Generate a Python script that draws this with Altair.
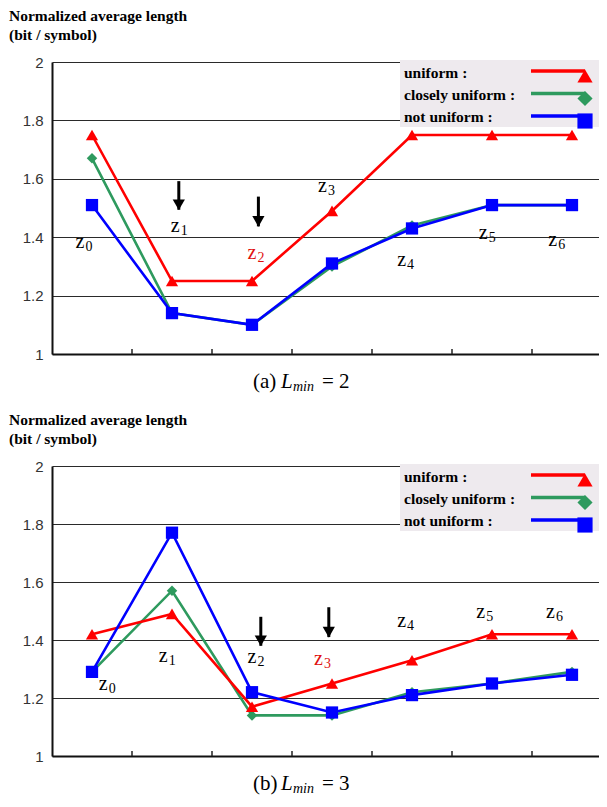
import altair as alt
import pandas as pd

# ---------------- data ----------------
categories = ["z0", "z1", "z2", "z3", "z4", "z5", "z6"]
series_names = ["uniform :", "closely uniform :", "not uniform :"]
series_colors = ["#FF0000", "#2E9A5E", "#0000FF"]
series_shapes = ["triangle-up", "diamond", "square"]
draw_order = ["closely uniform :", "uniform :", "not uniform :"]

# panel (a) L_min = 2
uniform_a = [1.75, 1.25, 1.25, 1.49, 1.75, 1.75, 1.75]
closely_a = [1.67, 1.14, 1.10, 1.30, 1.44, 1.51, 1.51]
notuni_a = [1.51, 1.14, 1.10, 1.31, 1.43, 1.51, 1.51]

# panel (b) L_min = 3
uniform_b = [1.42, 1.49, 1.17, 1.25, 1.33, 1.42, 1.42]
closely_b = [1.29, 1.57, 1.14, 1.14, 1.22, 1.25, 1.29]
notuni_b = [1.29, 1.77, 1.22, 1.15, 1.21, 1.25, 1.28]

y_ticks = [1, 1.2, 1.4, 1.6, 1.8, 2]
x_boundaries = [0.5, 1.5, 2.5, 3.5, 4.5, 5.5]

# z-label anchor positions (category units, value units)
label_x_a = [-0.15, 1.04, 2.0, 2.88, 3.87, 4.89, 5.76]
label_y_a = [1.385, 1.437, 1.345, 1.574, 1.322, 1.414, 1.391]
label_red_a = 2
label_x_b = [0.14, 0.89, 2.0, 2.83, 3.87, 4.86, 5.73]
label_y_b = [1.25, 1.346, 1.34, 1.335, 1.467, 1.495, 1.495]
label_red_b = 3

arrow_x_a = [1.085, 2.08]
arrow_top_a = [1.592, 1.539]
arrow_tip_a = [1.494, 1.437]
arrow_x_b = [2.11, 2.96]
arrow_top_b = [1.48, 1.513]
arrow_tip_b = [1.38, 1.41]

title_lines = ["Normalized average length", "(bit / symbol)"]

W = 547
SERIF = "Liberation Serif"
SANS = "Liberation Sans"

color_scale = alt.Scale(domain=series_names, range=series_colors)
shape_scale = alt.Scale(domain=series_names, range=series_shapes)
size_map = {"triangle-up": 150, "diamond": 110, "square": 150}


def panel(vals, lab_x, lab_y, red_idx, ax, atop, atip, letter, num, H):
    xs = alt.Scale(domain=[-0.5, 6.3375], nice=False, zero=False)
    ys = alt.Scale(domain=[1, 2], nice=False, zero=False)
    layers = []

    base_df = pd.DataFrame({"xi": [0, 6], "v": [1, 2]})
    axes = alt.Chart(base_df).mark_point(opacity=0).encode(
        x=alt.X("xi:Q", scale=xs, axis=alt.Axis(
            labels=False, ticks=False, grid=False, title=None,
            domainColor="#111", domainWidth=2)),
        y=alt.Y("v:Q", scale=ys, axis=alt.Axis(
            values=y_ticks, grid=True, gridColor="#2a2a2a", gridWidth=1,
            ticks=False, labelPadding=9, minExtent=44, maxExtent=44, title=None,
            labelFont=SANS, labelFontSize=15, labelColor="#333",
            domainColor="#111", domainWidth=2,
            labelExpr="format(datum.value, '~g')")),
    )
    layers.append(axes)

    tick_df = pd.DataFrame({"xb": x_boundaries})
    layers.append(alt.Chart(tick_df).mark_rule(color="#222", strokeWidth=1.5).encode(
        x=alt.X("xb:Q", scale=xs), y=alt.value(H), y2=alt.value(H - 5)))

    for name in draw_order:
        i = series_names.index(name)
        df = pd.DataFrame({"xi": list(range(len(categories))), "v": vals[i],
                           "series": name})
        line = alt.Chart(df).mark_line(strokeWidth=2.6).encode(
            x=alt.X("xi:Q", scale=xs), y=alt.Y("v:Q", scale=ys),
            color=alt.Color("series:N", scale=color_scale, legend=None))
        pts = alt.Chart(df).mark_point(filled=True, opacity=1,
                                      size=size_map[series_shapes[i]]).encode(
            x=alt.X("xi:Q", scale=xs), y=alt.Y("v:Q", scale=ys),
            color=alt.Color("series:N", scale=color_scale, legend=None),
            shape=alt.Shape("series:N", scale=shape_scale, legend=None))
        layers += [line, pts]

    ldf = pd.DataFrame({
        "lx": lab_x, "ly": lab_y,
        "z": [c[0] for c in categories],
        "d": [c[1:] for c in categories],
        "col": ["#E01010" if k == red_idx else "#000000" for k in range(len(categories))],
    })
    layers.append(alt.Chart(ldf).mark_text(font=SERIF, fontSize=20, baseline="middle",
                                           align="center").encode(
        x=alt.X("lx:Q", scale=xs), y=alt.Y("ly:Q", scale=ys), text="z:N",
        color=alt.Color("col:N", scale=None)))
    layers.append(alt.Chart(ldf).mark_text(font=SERIF, fontSize=14, baseline="middle",
                                           align="center", dx=9, dy=5).encode(
        x=alt.X("lx:Q", scale=xs), y=alt.Y("ly:Q", scale=ys), text="d:N",
        color=alt.Color("col:N", scale=None)))

    adf = pd.DataFrame({"ax": ax, "top": atop, "tip": atip})
    layers.append(alt.Chart(adf).mark_rule(color="black", strokeWidth=3).encode(
        x=alt.X("ax:Q", scale=xs), y=alt.Y("top:Q", scale=ys), y2="tip:Q"))
    layers.append(alt.Chart(adf).mark_point(shape="triangle-down", filled=True,
                                            opacity=1, color="black", size=150,
                                            yOffset=-5).encode(
        x=alt.X("ax:Q", scale=xs), y=alt.Y("tip:Q", scale=ys)))

    box_df = pd.DataFrame({"box": ["legend"]})
    layers.append(alt.Chart(box_df).mark_rect(color="#EEEAEE").encode(
        x=alt.value(348), x2=alt.value(W), y=alt.value(-2), y2=alt.value(65)))
    leg_df = pd.DataFrame({"series": series_names, "row": [0, 1, 2]})
    leg = alt.Chart(leg_df)
    layers.append(leg.transform_calculate(ty="11 + 22*datum.row").mark_text(
        font=SERIF, fontSize=15.5, fontWeight="bold", align="left", baseline="middle",
        color="black").encode(x=alt.value(352), y=alt.Y("ty:Q", scale=None),
                              text="series:N"))
    layers.append(leg.transform_calculate(ty="9 + 22.5*datum.row").mark_rule(
        strokeWidth=3.5).encode(
        x=alt.value(479), x2=alt.value(533), y=alt.Y("ty:Q", scale=None),
        color=alt.Color("series:N", scale=color_scale, legend=None)))
    layers.append(leg.transform_calculate(ty="14 + 22.5*datum.row").mark_point(
        filled=True, opacity=1, size=230).encode(
        x=alt.value(533), y=alt.Y("ty:Q", scale=None),
        color=alt.Color("series:N", scale=color_scale, legend=None),
        shape=alt.Shape("series:N", scale=shape_scale, legend=None)))

    cap_y = H + 28
    cap_df = pd.DataFrame({"c": ["caption"]})
    cap = alt.Chart(cap_df)
    layers.append(cap.mark_text(font=SERIF, fontSize=21, align="left", baseline="middle",
                                text=f"({letter})", color="black").encode(
        x=alt.value(201), y=alt.value(cap_y)))
    layers.append(cap.mark_text(font=SERIF, fontSize=21, fontStyle="italic", align="left",
                                baseline="middle", text="L", color="black").encode(
        x=alt.value(229), y=alt.value(cap_y)))
    layers.append(cap.mark_text(font=SERIF, fontSize=14, fontStyle="italic", align="left",
                                baseline="middle", text="min", color="black").encode(
        x=alt.value(241), y=alt.value(cap_y + 5)))
    layers.append(cap.mark_text(font=SERIF, fontSize=21, align="left", baseline="middle",
                                text=f"= {num}", color="black").encode(
        x=alt.value(270), y=alt.value(cap_y)))

    return alt.layer(*layers).properties(
        width=W, height=H,
        title=alt.TitleParams(text=title_lines, anchor="start", frame="group", dx=-43,
                              font=SERIF, fontSize=15.5, fontWeight="bold", color="black",
                              lineHeight=19, offset=12),
    )


top = panel([uniform_a, closely_a, notuni_a], label_x_a, label_y_a, label_red_a,
            arrow_x_a, arrow_top_a, arrow_tip_a, "a", 2, 292)
bottom = panel([uniform_b, closely_b, notuni_b], label_x_b, label_y_b, label_red_b,
               arrow_x_b, arrow_top_b, arrow_tip_b, "b", 3, 290)

chart = alt.vconcat(top, bottom, spacing=18).properties(
    padding={"left": 0, "top": 0, "right": 0, "bottom": 0},
    background="white",
).configure_view(stroke=None)

chart.save("out.html", embed_options={"renderer": "svg", "actions": False})
